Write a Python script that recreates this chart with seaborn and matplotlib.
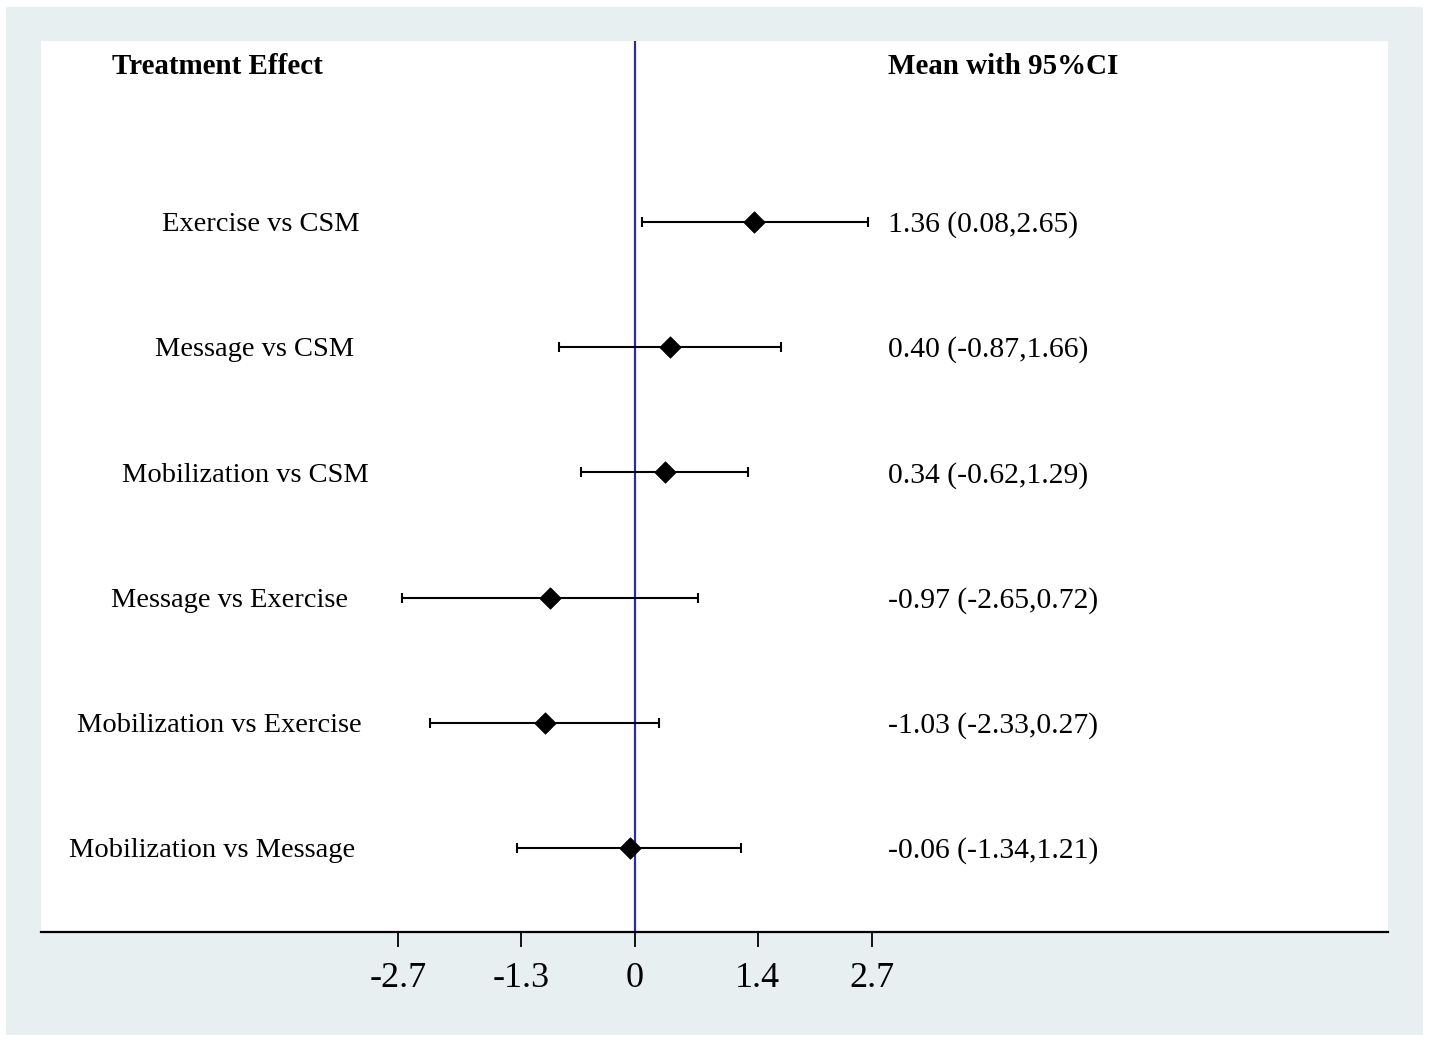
import matplotlib
matplotlib.use("Agg")
import matplotlib.pyplot as plt
import seaborn as sns
import pandas as pd
from matplotlib.patches import Rectangle

# ---- data ----
comparisons = ["Exercise vs CSM", "Message vs CSM", "Mobilization vs CSM",
               "Message vs Exercise", "Mobilization vs Exercise", "Mobilization vs Message"]
means = [1.36, 0.40, 0.34, -0.97, -1.03, -0.06]
lower = [0.08, -0.87, -0.62, -2.65, -2.33, -1.34]
upper = [2.65, 1.66, 1.29, 0.72, 0.27, 1.21]
tick_values = [-2.7, -1.3, 0, 1.4, 2.7]
tick_labels = ["-2.7", "-1.3", "0", "1.4", "2.7"]
header_left = "Treatment Effect"
header_right = "Mean with 95%CI"

df = pd.DataFrame({"comparison": comparisons, "mean": means,
                   "lower": lower, "upper": upper})
df["row"] = range(len(df))
df["label"] = [f"{m:.2f} ({l:.2f},{u:.2f})" for m, l, u in zip(means, lower, upper)]

# ---- layout ----
W, H = 1430, 1042
sns.set_theme(style="white")
plt.rcParams["font.family"] = ["Liberation Serif", "DejaVu Serif"]

fig = plt.figure(figsize=(W / 100, H / 100), dpi=100)
fig.patch.set_facecolor("white")
fig.add_artist(Rectangle((6 / W, 7 / H), (1423 - 6) / W, (1035 - 7) / H,
                         transform=fig.transFigure, facecolor="#e8eff1",
                         edgecolor="none", zorder=-10))

ax = fig.add_axes([41 / W, 1 - 932 / H, (1388 - 41) / W, (932 - 41) / H])
ax.set_facecolor("white")

# errorbars
ax.errorbar(df["mean"], df["row"],
            xerr=[df["mean"] - df["lower"], df["upper"] - df["mean"]],
            fmt="none", ecolor="black", elinewidth=1.5, capsize=3.5,
            capthick=1.5, zorder=2)
sns.scatterplot(data=df, x="mean", y="row", marker="D", s=120, color="black",
                edgecolor="black", linewidth=0.5, ax=ax, zorder=3, legend=False)

ax.axvline(0, color="#2a2ab0", lw=1.6, zorder=1)

px_per_unit = 87.8
ax.set_xlim((41 - 635) / px_per_unit, (1388 - 635) / px_per_unit)
row_px = 125.2
ax.set_ylim((932 - 222) / row_px, (41 - 222) / row_px)

ax.set_xticks(tick_values)
ax.set_xticklabels(tick_labels, fontsize=26)
ax.set_yticks([])
ax.set_xlabel("")
ax.set_ylabel("")
for s in ["top", "left", "right"]:
    ax.spines[s].set_visible(False)
ax.spines["bottom"].set_color("black")
ax.spines["bottom"].set_linewidth(1.6)
ax.tick_params(axis="x", direction="out", length=10.5, width=1.3, color="black",
               pad=11, bottom=True, labelcolor="black")

# left labels (row-centred positions in axes fraction)
label_centers_px = [261, 255, 245, 229, 219, 212]
text_dy = 0.022
for r, (name, cx) in enumerate(zip(comparisons, label_centers_px)):
    ax.text((cx - 41) / (1388 - 41), r + text_dy, name, transform=ax.get_yaxis_transform(),
            ha="center", va="center", fontsize=20.5, color="black")
# right labels
for r, lab in enumerate(df["label"]):
    ax.text((888 - 41) / (1388 - 41), r + text_dy, lab, transform=ax.get_yaxis_transform(),
            ha="left", va="center", fontsize=21.3, color="black")

hy = (66 - 222) / row_px
ax.text((112 - 41) / (1388 - 41), hy, header_left, transform=ax.get_yaxis_transform(),
        ha="left", va="center", fontsize=20.9, fontweight="bold", color="black")
ax.text((888 - 41) / (1388 - 41), hy, header_right, transform=ax.get_yaxis_transform(),
        ha="left", va="center", fontsize=20.9, fontweight="bold", color="black")

fig.savefig("out.png", dpi=100, facecolor=fig.get_facecolor())
